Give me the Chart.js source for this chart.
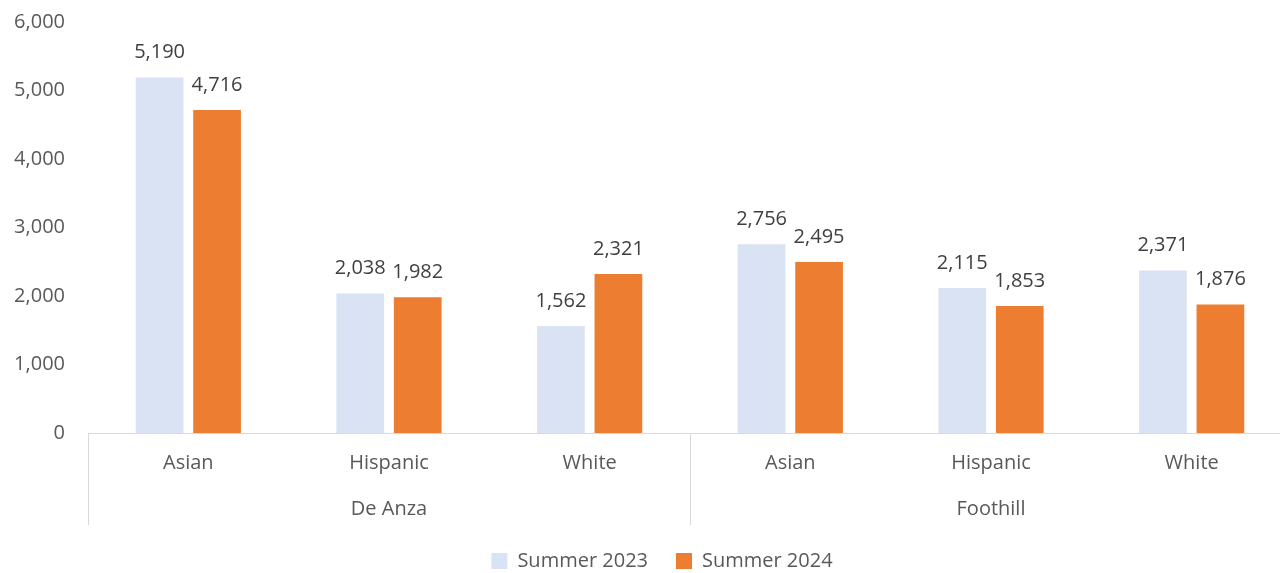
<!DOCTYPE html>
<html>
<head>
<meta charset="utf-8">
<script src="https://cdn.jsdelivr.net/npm/chart.js@4.4.1/dist/chart.umd.min.js"></script>
<style>
  html, body { margin: 0; padding: 0; background: #fff; }
  #wrap { width: 1280px; height: 573px; position: relative; }
</style>
</head>
<body>
<div id="wrap"><canvas id="chart"></canvas></div>
<script>
const groups = ['De Anza', 'Foothill'];
const races = ['Asian', 'Hispanic', 'White'];
const labels = ['Asian', 'Hispanic', 'White', 'Asian', 'Hispanic', 'White'];
const summer2023 = [5190, 2038, 1562, 2756, 2115, 2371];
const summer2024 = [4716, 1982, 2321, 2495, 1853, 1876];
const yTicks = [0, 1000, 2000, 3000, 4000, 5000, 6000];

const FONT = '"Open Sans", sans-serif';
const FS = 20;
const TXT = '#595959';
// legend box is nudged so its row lands where the original has it
const LEGEND_DY = 552;
const LEGEND_DX = 22;
// the original plot runs a little past the right edge of the picture
const PLOT_OVERHANG = 12;

const valueLabels = {
  id: 'valueLabels',
  afterDatasetsDraw(chart) {
    const ctx = chart.ctx;
    ctx.save();
    ctx.font = FS + 'px ' + FONT;
    ctx.fillStyle = '#404040';
    ctx.textAlign = 'center';
    ctx.textBaseline = 'middle';
    chart.data.datasets.forEach((ds, i) => {
      chart.getDatasetMeta(i).data.forEach((bar, j) => {
        ctx.fillText(ds.data[j].toLocaleString('en-US'), bar.x, bar.y - 25);
      });
    });
    ctx.restore();
  }
};

const groupAxis = {
  id: 'groupAxis',
  afterLayout(chart) {
    const L = chart.legend;
    const dy = LEGEND_DY - (L.top + L.bottom) / 2;
    L.top += dy;
    L.bottom += dy;
    L.left += LEGEND_DX;
    L.right += LEGEND_DX;

    const xs = chart.scales.x;
    xs.right += PLOT_OVERHANG;
    xs.width += PLOT_OVERHANG;
    xs.configure();
    chart.chartArea.right += PLOT_OVERHANG;
    chart.chartArea.width += PLOT_OVERHANG;
  },
  afterDraw(chart) {
    const ctx = chart.ctx;
    const a = chart.chartArea;
    const x = chart.scales.x;
    const per = races.length;
    const w = (a.right - a.left) / groups.length;
    ctx.save();
    ctx.strokeStyle = '#d9d9d9';
    ctx.lineWidth = 1;
    for (let g = 0; g < groups.length; g++) {
      const lx = Math.round(a.left + g * w) + 0.5;
      ctx.beginPath();
      ctx.moveTo(lx, a.bottom);
      ctx.lineTo(lx, a.bottom + 92);
      ctx.stroke();
    }
    ctx.font = FS + 'px ' + FONT;
    ctx.fillStyle = TXT;
    ctx.textAlign = 'center';
    ctx.textBaseline = 'middle';
    groups.forEach((name, g) => {
      const cx = (x.getPixelForValue(g * per) + x.getPixelForValue(g * per + per - 1)) / 2;
      ctx.fillText(name, cx, a.bottom + 76);
    });
    ctx.restore();
  }
};

new Chart(document.getElementById('chart'), {
  type: 'bar',
  data: {
    labels: labels,
    datasets: [
      { label: 'Summer 2023', data: summer2023, backgroundColor: '#dae3f3', categoryPercentage: 0.573, barPercentage: 0.83 },
      { label: 'Summer 2024', data: summer2024, backgroundColor: '#ed7d31', categoryPercentage: 0.573, barPercentage: 0.83 }
    ]
  },
  options: {
    responsive: true,
    maintainAspectRatio: false,
    animation: false,
    layout: { padding: 0 },
    scales: {
      x: {
        grid: { display: false },
        border: { display: true, color: '#d9d9d9', width: 1 },
        ticks: { font: { size: FS, family: FONT }, color: TXT, padding: 10, maxRotation: 0 },
        afterFit(s) { s.height = 82; }
      },
      y: {
        min: 0,
        max: 6000,
        grid: { display: false },
        border: { display: false },
        afterBuildTicks(s) { s.ticks = yTicks.map(v => ({ value: v })); },
        ticks: {
          font: { size: FS, family: FONT },
          color: TXT,
          padding: 15,
          callback: v => v.toLocaleString('en-US')
        },
        afterFit(s) { s.width = 88; s.paddingTop = 22; s.paddingBottom = 0; }
      }
    },
    plugins: {
      legend: {
        position: 'bottom',
        labels: { font: { size: FS, family: FONT }, color: TXT, boxWidth: 16, boxHeight: 16, padding: 28 }
      },
      tooltip: { enabled: false }
    }
  },
  plugins: [valueLabels, groupAxis]
});
</script>
</body>
</html>
